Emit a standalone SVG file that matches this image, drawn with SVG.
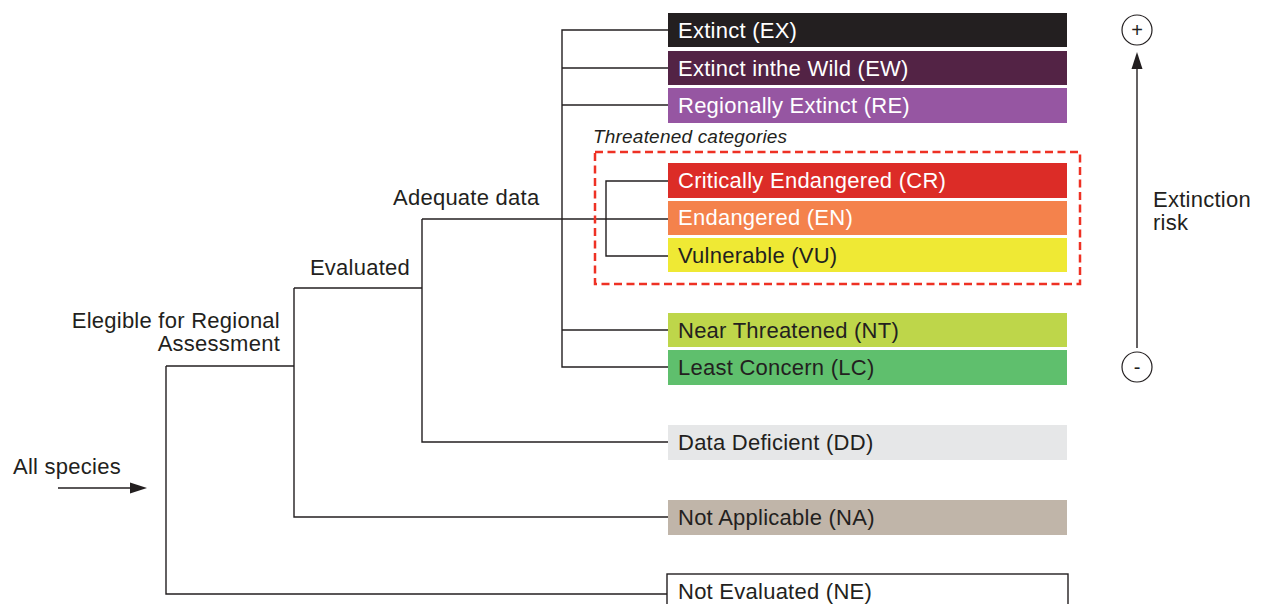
<svg xmlns="http://www.w3.org/2000/svg" width="1269" height="604" viewBox="0 0 1269 604">
<defs>
<style>
text{font-family:"Liberation Sans",Arial,sans-serif;font-size:22px;letter-spacing:0.25px;fill:#231f20}
.w{fill:#ffffff}
.ln{fill:none;stroke:#231f20;stroke-width:1.4}
.ah{fill:#231f20;stroke:none}
</style>
</defs>
<rect width="1269" height="604" fill="#ffffff"/>
<g id="connectors">
<g class="ln">
<path d="M668,30 H562 V367 H668"/>
<path d="M562,68 H668"/>
<path d="M562,105 H668"/>
<path d="M562,330 H668"/>
<path d="M294,288 H422"/>
<path d="M422,219 V442 H668"/>
<path d="M422,219 H668"/>
<path d="M668,181 H606 V256 H668"/>
<path d="M166,366 H294"/>
<path d="M294,288 V517 H668"/>
<path d="M166,366 V594 H668"/>
<path d="M58,488 H134"/>
<path d="M1137,348 V64"/>
</g>
<path class="ah" d="M147,488 L130,482.5 L130,493.5 Z"/>
<path class="ah" d="M1137,52 L1131.5,69 L1142.5,69 Z"/>
</g>
<g id="threatened">
<rect x="595" y="152" width="485" height="132" fill="none" stroke="#ee3124" stroke-width="2.5" stroke-dasharray="8,4.5"/>
<text x="593" y="143" font-style="italic" style="font-size:19px;letter-spacing:0.2px">Threatened categories</text>
</g>
<g id="EX"><rect x="668" y="13" width="399" height="34" fill="#231f20"/><text class="w" x="678" y="38">Extinct (EX)</text></g>
<g id="EW"><rect x="668" y="51" width="399" height="34" fill="#532345"/><text class="w" x="678" y="76">Extinct inthe Wild (EW)</text></g>
<g id="RE"><rect x="668" y="88" width="399" height="35" fill="#9656a2"/><text class="w" x="678" y="113">Regionally Extinct (RE)</text></g>
<g id="CR"><rect x="668" y="163" width="399" height="35" fill="#dc2c27"/><text class="w" x="678" y="188">Critically Endangered (CR)</text></g>
<g id="EN"><rect x="668" y="201" width="399" height="34" fill="#f4824c"/><text class="w" x="678" y="225">Endangered (EN)</text></g>
<g id="VU"><rect x="668" y="238" width="399" height="34" fill="#efe934"/><text x="678" y="263">Vulnerable (VU)</text></g>
<g id="NT"><rect x="668" y="313" width="399" height="34" fill="#bed64a"/><text x="678" y="338">Near Threatened (NT)</text></g>
<g id="LC"><rect x="668" y="350" width="399" height="35" fill="#5fbf6d"/><text x="678" y="375">Least Concern (LC)</text></g>
<g id="DD"><rect x="668" y="425" width="399" height="35" fill="#e6e7e8"/><text x="678" y="450">Data Deficient (DD)</text></g>
<g id="NA"><rect x="668" y="500" width="399" height="35" fill="#c0b5a9"/><text x="678" y="525">Not Applicable (NA)</text></g>
<g id="NE"><rect x="667" y="574" width="401" height="40" fill="#ffffff" stroke="#231f20" stroke-width="1.4"/><text x="678" y="599">Not Evaluated (NE)</text></g>
<g id="labels">
<text x="13" y="474">All species</text>
<text x="280" y="328" text-anchor="end">Elegible for Regional</text>
<text x="280" y="351" text-anchor="end">Assessment</text>
<text x="410" y="275" text-anchor="end">Evaluated</text>
<text x="393" y="205">Adequate data</text>
</g>
<g id="risk">
<circle cx="1137" cy="30" r="15" fill="none" stroke="#231f20" stroke-width="1.2"/>
<text x="1137" y="37" text-anchor="middle" style="font-size:20px;letter-spacing:0">+</text>
<circle cx="1137" cy="367" r="15" fill="none" stroke="#231f20" stroke-width="1.2"/>
<text x="1137" y="374" text-anchor="middle" style="font-size:20px;letter-spacing:0">-</text>
<text x="1153" y="207">Extinction</text>
<text x="1153" y="230">risk</text>
</g>
</svg>
